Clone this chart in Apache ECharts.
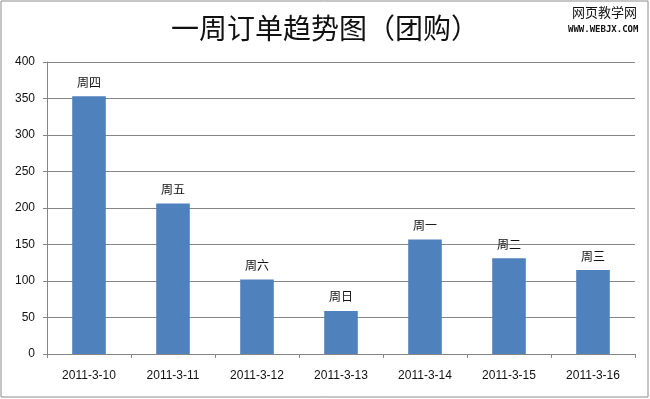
<!DOCTYPE html>
<html><head><meta charset="utf-8">
<script src="https://cdn.jsdelivr.net/npm/echarts@6/dist/echarts.min.js"></script>
<style>html,body{margin:0;padding:0;background:#fff}#c{width:650px;height:399px}</style>
</head><body><div id="c"></div>
<script>
var categories = ['2011-3-10','2011-3-11','2011-3-12','2011-3-13','2011-3-14','2011-3-15','2011-3-16'];
var weekdays = ['周四','周五','周六','周日','周一','周二','周三'];
var orders = [353, 206, 102, 59, 157, 131, 115];
var titleText = '一周订单趋势图（团购）';

var chart = echarts.init(document.getElementById('c'));
chart.setOption({
  animation: false,
  backgroundColor: '#fff',
  title: {
    text: titleText, left: 'center', top: 9,
    textStyle: {fontFamily: 'Noto Sans CJK SC', fontSize: 28, fontWeight: 'normal', color: '#111'}
  },
  graphic: [
    {type: 'rect', shape: {x: 1, y: 1, width: 647, height: 396}, style: {fill: 'none', stroke: '#8c8c8c', lineWidth: 1}, silent: true},
    {type: 'text', left: 572, top: 6, style: {text: '网页教学网', font: '13px "Noto Sans CJK SC"', fill: '#111'}},
    {type: 'text', left: 568, top: 25, style: {text: 'WWW.WEBJX.COM', font: 'bold 9px "DejaVu Sans Mono"', fill: '#111'}}
  ],
  grid: {left: 47, right: 15, top: 62, bottom: 45, containLabel: false},
  xAxis: {
    type: 'category', data: categories, boundaryGap: true,
    axisLine: {lineStyle: {color: '#868686'}},
    axisTick: {show: true, length: 4, alignWithLabel: false, lineStyle: {color: '#868686'}},
    axisLabel: {margin: 16, fontSize: 12, color: '#111', fontFamily: 'Liberation Sans'}
  },
  yAxis: {
    type: 'value', min: 0, max: 400, interval: 50,
    axisLine: {show: true, lineStyle: {color: '#868686'}},
    axisTick: {show: true, length: 4, lineStyle: {color: '#868686'}},
    splitLine: {lineStyle: {color: '#868686'}},
    axisLabel: {margin: 12, fontSize: 12, color: '#111', fontFamily: 'Liberation Sans'}
  },
  series: [{
    type: 'bar', data: orders, barWidth: '40%',
    itemStyle: {color: '#4F81BD'},
    label: {
      show: true, position: 'top', distance: 8, fontSize: 12, color: '#111',
      fontFamily: 'Noto Sans CJK SC',
      formatter: function (p) { return weekdays[p.dataIndex]; }
    }
  }]
});
</script></body></html>
